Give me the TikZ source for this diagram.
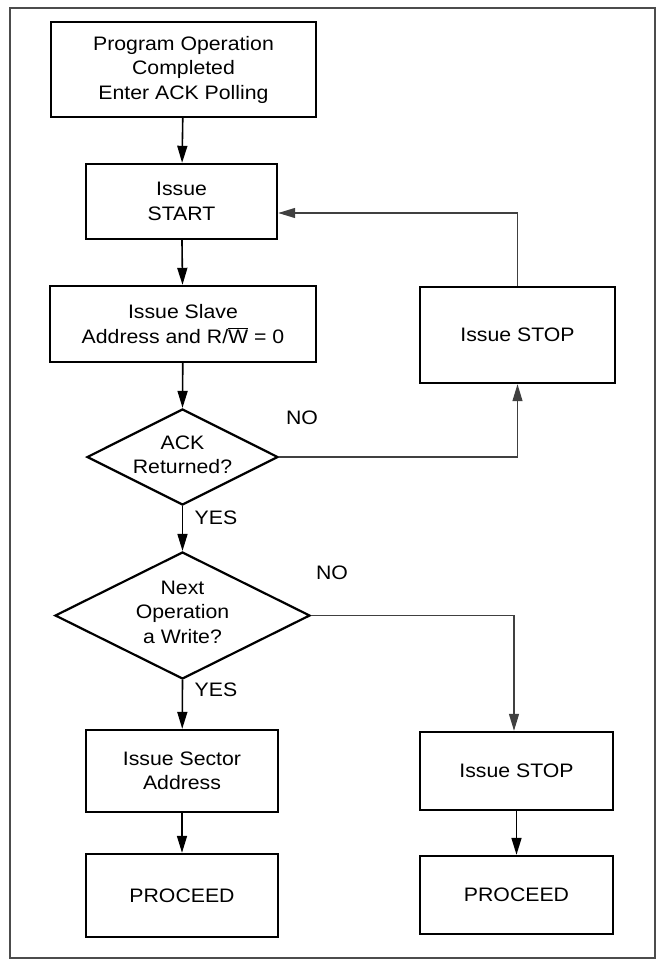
\documentclass[tikz,border=0pt]{standalone}
\usepackage{fontspec}
\setmainfont{Liberation Sans}[FakeStretch=1.09]
\usetikzlibrary{arrows.meta, positioning, shapes.geometric}
\tikzset{
    block/.style={draw, line width=2.4pt, align=center, inner sep=0pt},
    decision/.style={draw, diamond, line width=2.2pt, inner sep=0pt},
    txt/.style={align=center, inner sep=0pt},
    flow/.style={line width=1.6pt, -{Triangle[length=17pt, width=10pt]}},
    back/.style={line width=1.3pt, draw=black!75, -{Triangle[length=17pt, width=10pt]}}
}
\begin{document}
\begin{tikzpicture}[x=1pt, y=-1pt, font=\fontsize{19.5}{24.5}\selectfont]
    \useasboundingbox (0,0) rectangle (657,961);
    \draw[line width=1.3pt, draw=black!70] (10,8) rectangle (655,958);
    % left column
    \node[block, minimum width=265pt, minimum height=95pt] (prog) at (183.5,69.5) {Program Operation\\Completed\\Enter ACK Polling};
    \node[block, minimum width=191pt, minimum height=75pt] (start) at (181.5,201.5) {Issue\\START};
    \node[block, minimum width=266pt, minimum height=76pt] (addr) at (183,324) {Issue Slave\\Address and R/$\overline{\mbox{W}}$ = 0};
    \node[decision, minimum width=191pt, minimum height=96pt] (ack) at (182.5,457) {};
    \node[txt] (acktxt) at (182.5,455) {ACK\\Returned?};
    \node[decision, minimum width=255pt, minimum height=127pt] (next) at (182.5,615.5) {};
    \node[txt] (nexttxt) at (182.5,612) {Next\\Operation\\a Write?};
    \node[block, minimum width=192pt, minimum height=82pt] (sector) at (182,771) {Issue Sector\\Address};
    \node[block, minimum width=192pt, minimum height=83pt] (procA) at (182,895.5) {PROCEED};
    % right column
    \node[block, minimum width=195pt, minimum height=96pt] (stopA) at (517.5,335) {Issue STOP};
    \node[block, minimum width=193pt, minimum height=78pt] (stopB) at (516.5,771) {Issue STOP};
    \node[block, minimum width=193pt, minimum height=78pt] (procB) at (516.5,895) {PROCEED};
    % labels
    \node[txt] (noA) at (302,418) {NO};
    \node[txt] (yesA) at (216,518) {YES};
    \node[txt] (noB) at (332,573) {NO};
    \node[txt] (yesB) at (216,690) {YES};
    \draw[flow] (prog) -- (start);
    \draw[flow] (start) -- (addr);
    \draw[flow] (addr) -- (ack.north);
    \draw[flow] (ack.south) -- (next.north);
    \draw[flow] (next.south) -- (sector);
    \draw[flow] (sector) -- (procA);
    \draw[flow] (stopB) -- (procB);
    \draw[back] (ack.east) -| (stopA.south);
    \draw[back] (stopA.north) |- ([yshift=-11.5pt]start.east);
    \draw[back] (next.east) -| ([xshift=-2.5pt]stopB.north);
\end{tikzpicture}
\end{document}
